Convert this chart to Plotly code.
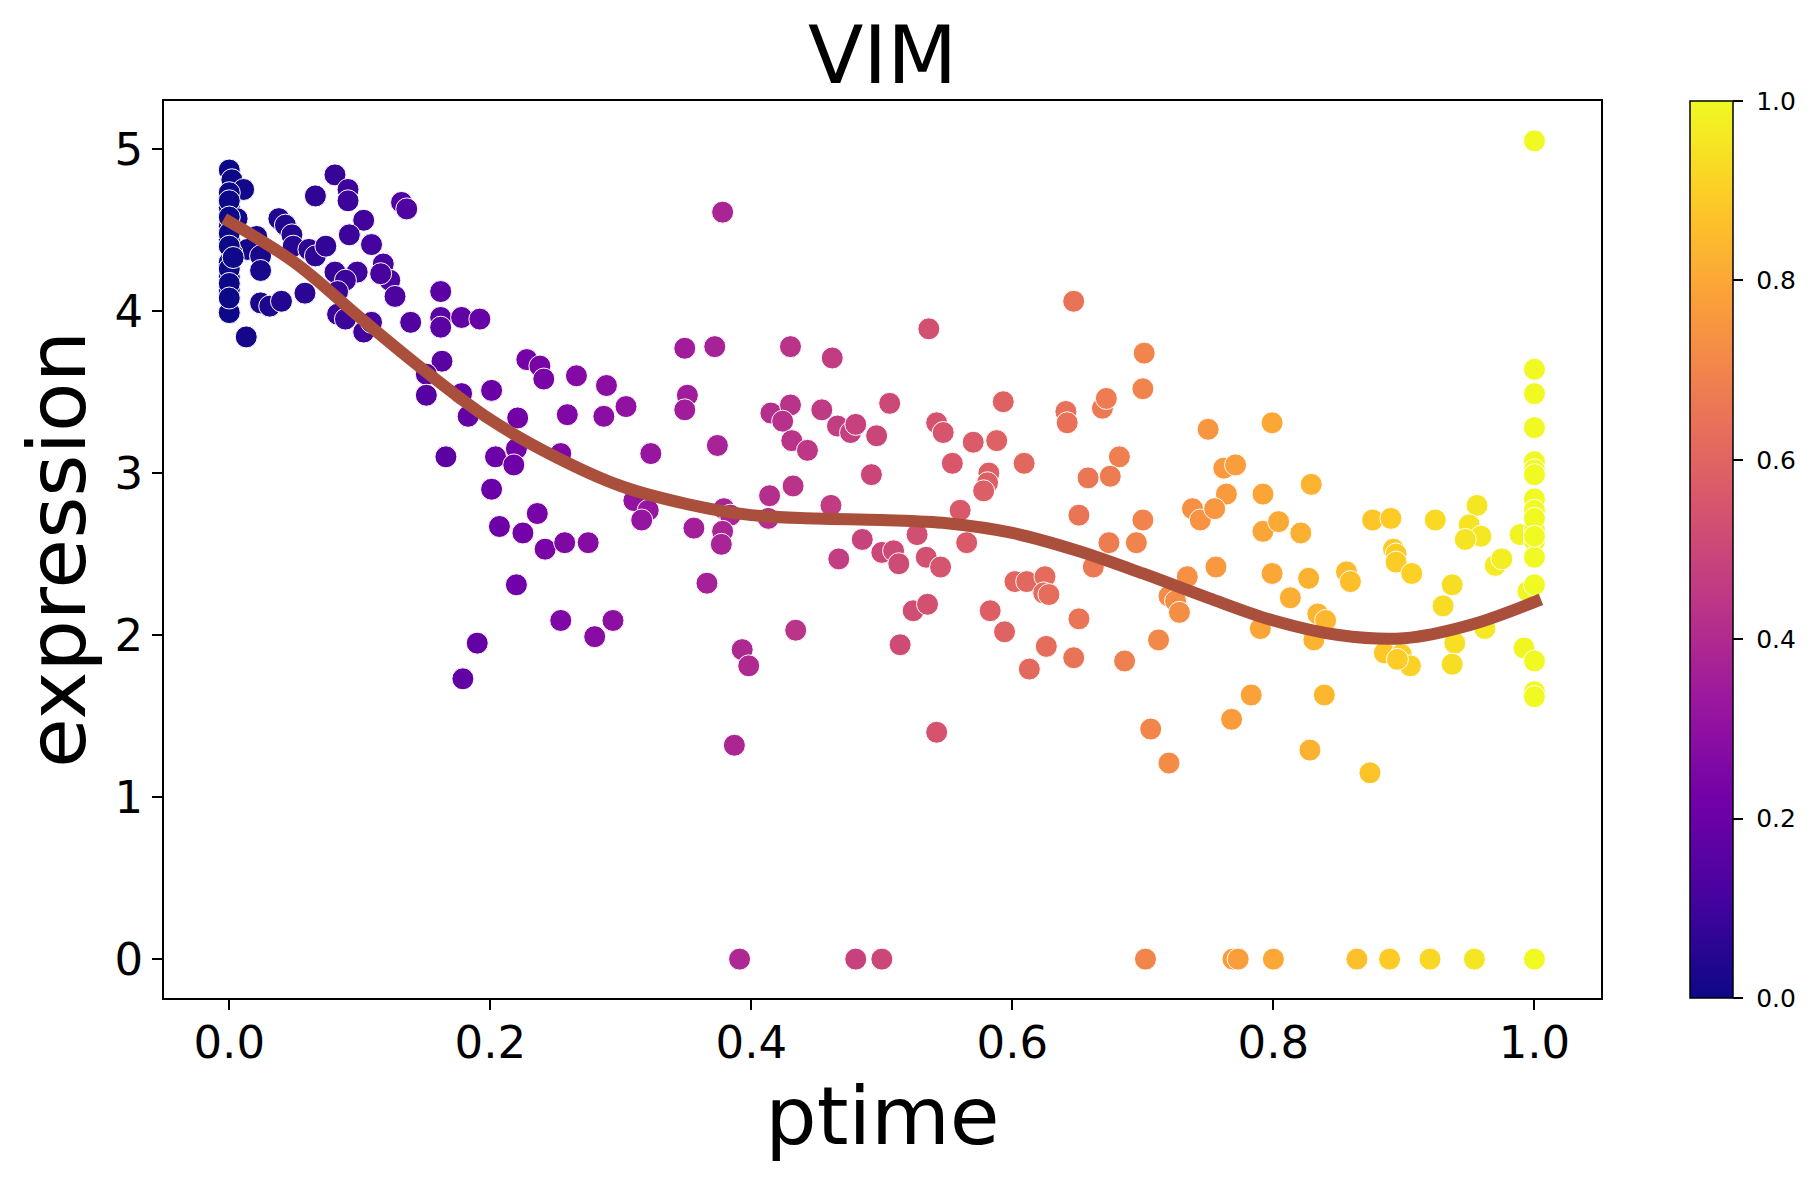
import plotly.graph_objects as go

# ---- data: (ptime, expression) points ----
ptime = [
    0.000, 0.002, 0.011, 0.000, 0.000, 0.006, 0.000, 0.000, 0.021, 0.014, 0.002, 0.024, 0.024, 0.000,
    0.000, 0.000, 0.013, 0.024, 0.031, 0.040, 0.038, 0.043, 0.048, 0.049, 0.061, 0.066, 0.058, 0.066,
    0.081, 0.091, 0.091, 0.074, 0.103, 0.092, 0.109, 0.081, 0.098, 0.089, 0.083, 0.118, 0.123, 0.116,
    0.127, 0.083, 0.089, 0.103, 0.109, 0.132, 0.136, 0.139, 0.162, 0.162, 0.162, 0.178, 0.192, 0.163,
    0.151, 0.151, 0.178, 0.183, 0.201, 0.221, 0.166, 0.204, 0.220, 0.218, 0.201, 0.254, 0.228, 0.238,
    0.241, 0.266, 0.259, 0.289, 0.287, 0.207, 0.225, 0.236, 0.242, 0.257, 0.275, 0.220, 0.254, 0.280,
    0.294, 0.190, 0.179,
    0.000, 0.000, 0.000, 0.000, 0.000, 0.000, 0.000, 0.000, 0.003,
    0.378, 0.349, 0.372, 0.430, 0.462, 0.536, 0.304, 0.351, 0.349, 0.323, 0.374, 0.415, 0.430, 0.424,
    0.454, 0.466, 0.476, 0.480, 0.506, 0.496, 0.431, 0.443, 0.492, 0.432, 0.414, 0.542, 0.547, 0.570,
    0.588, 0.593, 0.609, 0.554, 0.582, 0.581, 0.578, 0.560, 0.310, 0.321, 0.316, 0.356, 0.379, 0.384,
    0.378, 0.377, 0.413, 0.461, 0.485, 0.467, 0.527, 0.565, 0.500, 0.509, 0.513, 0.534, 0.545, 0.366,
    0.434, 0.393, 0.398, 0.387, 0.391, 0.480, 0.500, 0.514, 0.524, 0.535, 0.542, 0.583, 0.594, 0.602,
    0.611, 0.625, 0.624, 0.628, 0.626, 0.613,
    0.647, 0.701, 0.700, 0.641, 0.642, 0.669, 0.672, 0.750, 0.799, 0.682, 0.658, 0.675, 0.651, 0.700,
    0.674, 0.695, 0.762, 0.771, 0.764, 0.792, 0.829, 0.738, 0.744, 0.755, 0.792, 0.804, 0.821, 0.876,
    0.890, 0.924, 0.956, 0.950, 0.959, 0.947, 0.892,
    0.662, 0.651, 0.647, 0.686, 0.734, 0.720, 0.725, 0.728, 0.756, 0.712, 0.799, 0.827, 0.813, 0.834,
    0.840, 0.790, 0.831, 0.856, 0.859, 0.894, 0.894, 0.906, 0.970, 0.975, 0.937, 0.930, 0.962, 0.939,
    0.937, 0.885, 0.898, 0.905, 0.895,
    0.995, 0.992, 0.783, 0.768, 0.706, 0.720, 0.839, 0.828, 0.874, 0.989,
    0.702, 0.769, 0.773, 0.800, 0.864, 0.889, 0.920, 0.954, 1.000,
    1.000, 1.000, 1.000, 1.000, 1.000, 1.000, 1.000, 1.000, 1.000, 1.000, 1.000, 1.000, 1.000, 1.000,
    1.000, 1.000, 1.000, 1.000,
]
expression = [
    4.87, 4.81, 4.75, 4.73, 4.64, 4.57, 4.52, 4.44, 4.46, 4.38, 4.36, 4.34, 4.25, 4.21,
    4.13, 3.99, 3.84, 4.05, 4.03, 4.06, 4.57, 4.53, 4.47, 4.40, 4.38, 4.34, 4.11, 4.71,
    4.84, 4.75, 4.68, 4.40, 4.56, 4.47, 4.41, 4.24, 4.24, 4.19, 4.12, 4.29, 4.19, 4.23,
    4.09, 3.98, 3.95, 3.87, 3.93, 4.67, 4.63, 3.93, 4.12, 3.96, 3.90, 3.96, 3.95, 3.69,
    3.61, 3.48, 3.49, 3.35, 3.51, 3.34, 3.10, 3.10, 3.15, 3.05, 2.90, 3.12, 3.70, 3.66,
    3.58, 3.60, 3.36, 3.54, 3.35, 2.67, 2.63, 2.75, 2.53, 2.57, 2.57, 2.31, 2.09, 1.99,
    2.09, 1.95, 1.73,
    4.68, 4.58, 4.48, 4.40, 4.30, 4.26, 4.17, 4.08, 4.33,
    4.61, 3.77, 3.78, 3.78, 3.71, 3.89, 3.41, 3.48, 3.39, 3.12, 3.17, 3.37, 3.42, 3.32,
    3.39, 3.29, 3.25, 3.30, 3.43, 3.23, 3.20, 3.14, 2.99, 2.92, 2.86, 3.31, 3.25, 3.19,
    3.20, 3.44, 3.06, 3.06, 3.00, 2.94, 2.89, 2.77, 2.83, 2.77, 2.71, 2.66, 2.78, 2.74,
    2.64, 2.56, 2.72, 2.80, 2.59, 2.47, 2.62, 2.57, 2.51, 2.52, 2.44, 2.48, 2.42, 2.32,
    2.03, 1.91, 1.81, 1.32, 0.00, 0.00, 0.00, 1.94, 2.15, 2.19, 1.40, 2.15, 2.02, 2.33,
    2.33, 2.36, 2.26, 2.25, 1.93, 1.79,
    4.06, 3.74, 3.52, 3.38, 3.31, 3.40, 3.46, 3.27, 3.31, 3.10, 2.97, 2.98, 2.74, 2.71,
    2.57, 2.57, 3.03, 3.05, 2.87, 2.87, 2.93, 2.78, 2.71, 2.78, 2.64, 2.70, 2.63, 2.71,
    2.72, 2.71, 2.80, 2.68, 2.61, 2.59, 2.53,
    2.42, 2.10, 1.86, 1.84, 2.36, 2.24, 2.21, 2.14, 2.42, 1.97, 2.38, 2.35, 2.23, 2.13,
    2.09, 2.04, 1.97, 2.39, 2.33, 2.50, 2.45, 2.38, 2.43, 2.47, 2.31, 2.18, 2.04, 1.95,
    1.82, 1.89, 1.88, 1.81, 1.85,
    2.27, 1.92, 1.63, 1.48, 1.42, 1.21, 1.63, 1.29, 1.15, 2.62,
    0.00, 0.00, 0.00, 0.00, 0.00, 0.00, 0.00, 0.00, 0.00,
    5.05, 3.64, 3.49, 3.28, 3.07, 3.02, 2.99, 2.84, 2.77, 2.65, 2.58, 2.48, 2.31, 1.84,
    1.65, 1.62, 2.72, 2.61,
]

# smoothed trend line
curve_x = [-0.004, 0.05, 0.10, 0.15, 0.20, 0.25, 0.30, 0.35, 0.40, 0.45, 0.50,
           0.55, 0.60, 0.65, 0.70, 0.75, 0.80, 0.85, 0.90, 0.95, 1.005]
curve_y = [4.57, 4.30, 3.96, 3.63, 3.33, 3.10, 2.92, 2.81, 2.74, 2.72, 2.71,
           2.69, 2.63, 2.52, 2.38, 2.23, 2.09, 2.00, 1.98, 2.06, 2.22]

x_ticks = [0.0, 0.2, 0.4, 0.6, 0.8, 1.0]
y_ticks = [0, 1, 2, 3, 4, 5]
cbar_ticks = [0.0, 0.2, 0.4, 0.6, 0.8, 1.0]

FONT = "DejaVu Sans"
W, H = 1819, 1179
L, R, T, B = 164, 1601, 101, 998

fig = go.Figure()
fig.add_trace(go.Scatter(
    x=ptime, y=expression, mode="markers",
    marker=dict(
        size=22, color=ptime, colorscale="Plasma", cmin=0, cmax=1,
        line=dict(color="white", width=1),
        colorbar=dict(
            x=(1690 - L) / (R - L), xanchor="left", xref="paper", xpad=0,
            y=0.5, yanchor="middle", len=1, lenmode="fraction", ypad=0,
            thickness=43, outlinewidth=1.5, outlinecolor="black",
            tickvals=cbar_ticks, ticktext=["\u00a0" + f"{v:.1f}" for v in cbar_ticks],
            ticks="outside", ticklen=10, tickwidth=1.5, tickcolor="black",
            tickfont=dict(family=FONT, size=25, color="black"),
        ),
    ),
    showlegend=False,
))
fig.add_trace(go.Scatter(
    x=curve_x, y=curve_y, mode="lines",
    line=dict(color="#A94F3C", width=12, shape="spline", smoothing=1.0),
    showlegend=False,
))

fig.update_layout(
    width=W, height=H,
    margin=dict(l=L, r=W - R, t=T, b=H - B),
    paper_bgcolor="white", plot_bgcolor="white",
    font=dict(family=FONT, color="black"),
    title=dict(text="VIM", x=(L + R) / 2 / W, xanchor="center",
               y=1 - 55 / H, yanchor="middle", yref="container",
               font=dict(family=FONT, size=81, color="black")),
)
fig.update_xaxes(
    range=[-0.05, 1.051], tickvals=x_ticks, ticktext=[f"{v:.1f}" for v in x_ticks],
    showgrid=False, zeroline=False, showline=True, mirror=True,
    linecolor="black", linewidth=1.5, ticks="outside", ticklen=10, tickwidth=1.5,
    tickcolor="black", tickfont=dict(family=FONT, size=45, color="black"),
    ticklabelstandoff=-6,
    title=dict(text="ptime", font=dict(family=FONT, size=81, color="black"), standoff=8),
)
fig.update_yaxes(
    range=[-0.24, 5.296], tickvals=y_ticks, ticktext=[str(v) for v in y_ticks],
    showgrid=False, zeroline=False, showline=True, mirror=True,
    linecolor="black", linewidth=1.5, ticks="outside", ticklen=10, tickwidth=1.5,
    tickcolor="black", tickfont=dict(family=FONT, size=45, color="black"),
    title=dict(text="expression", font=dict(family=FONT, size=81, color="black"), standoff=2),
)

fig.write_html("out.html")
